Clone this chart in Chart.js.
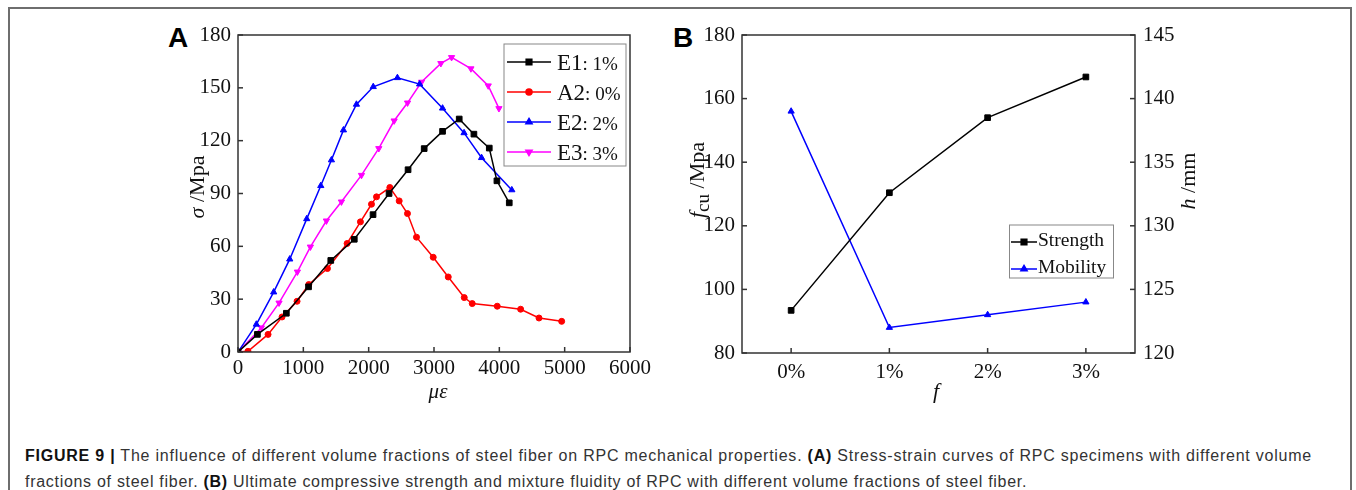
<!DOCTYPE html>
<html>
<head>
<meta charset="utf-8">
<script src="https://cdn.jsdelivr.net/npm/chart.js@4.4.0/dist/chart.umd.min.js"></script>
<style>
  body { margin: 0; background: #fff; width: 1356px; height: 490px; overflow: hidden; position: relative; }
  #frame { position: absolute; left: 8px; top: 7px; width: 1340px; height: 520px; border: 2px solid #6e6e6e; border-bottom: none; }
  .panel { position: absolute; top: 0; }
  #wrapA { left: 160px; width: 500px; height: 410px; }
  #wrapB { left: 660px; width: 560px; height: 410px; }
  .tag { position: absolute; top: 24px; font: bold 28px 'Liberation Sans', Arial, sans-serif; line-height: 28px; color: #000; }
  #caption { position: absolute; left: 25px; top: 443px; font: 16px 'Liberation Sans', Arial, sans-serif; line-height: 26px; color: #333; white-space: nowrap; }
  #caption b { color: #111; }
</style>
</head>
<body>
<div id="frame"></div>
<div class="tag" style="left:168px">A</div>
<div class="tag" style="left:673px">B</div>
<div class="panel" id="wrapA"><canvas id="chartA" width="500" height="410"></canvas></div>
<div class="panel" id="wrapB"><canvas id="chartB" width="560" height="410"></canvas></div>
<div id="caption">
  <div class="ln"><b>FIGURE 9 |</b> The influence of different volume fractions of steel fiber on RPC mechanical properties. <b>(A)</b> Stress-strain curves of RPC specimens with different volume</div>
  <div class="ln">fractions of steel fiber. <b>(B)</b> Ultimate compressive strength and mixture fluidity of RPC with different volume fractions of steel fiber.</div>
</div>
<script>
// --- panel A: stress-strain curves (strain in µε, stress in MPa)
var e1Strain = [0, 297, 740, 1080, 1420, 1780, 2067, 2312, 2603, 2850, 3131, 3386, 3611, 3846, 3963, 4152];
var e1Stress = [0, 10, 22, 37, 52, 64, 78, 90, 103.5, 115.5, 125.3, 132.3, 123.7, 115.8, 97.2, 84.7];

var a2Strain = [0, 153, 460, 674, 904, 1083, 1369, 1670, 1874, 2043, 2120, 2324, 2467, 2594, 2732, 2988, 3218, 3463, 3585, 3968, 4326, 4607, 4954];
var a2Stress = [0, 0.4, 10, 19.9, 28.8, 38.3, 47.4, 61.6, 73.9, 83.9, 88.1, 93.4, 85.8, 78.6, 65.2, 53.8, 42.6, 30.9, 27.5, 26, 24.3, 19.3, 17.4];

var e2Strain = [0, 281, 546, 792, 1052, 1267, 1430, 1614, 1813, 2070, 2440, 2780, 3131, 3460, 3728, 4191];
var e2Stress = [0, 15.7, 34, 52.7, 75.6, 94.4, 109, 126, 140.6, 150.6, 155.7, 152.1, 138.4, 124.4, 110.3, 92];

var e3Strain = [0, 358, 628, 909, 1108, 1353, 1583, 1890, 2155, 2390, 2595, 2809, 3105, 3269, 3565, 3830, 3994];
var e3Stress = [0, 13.8, 27.9, 45.5, 59.7, 74.5, 85.3, 100.4, 115.6, 131.3, 141.5, 153.3, 163.9, 167.3, 160.9, 151.2, 138.3];

var seriesNamesA = ['E1: 1%', 'A2: 0%', 'E2: 2%', 'E3: 3%'];

// --- panel B: strength and mobility against fiber fraction
var fractions = ['0%', '1%', '2%', '3%'];
var strength = [93.4, 130.4, 154, 166.8];
var mobility = [139, 122, 123, 124];
var seriesNamesB = ['Strength', 'Mobility'];

var SERIF = "'Liberation Serif', 'Times New Roman', serif";
var tickFont = { family: SERIF, size: 21 };

function pairs(xs, ys) {
    return xs.map((x, i) => ({ x: x, y: ys[i] }));
}

function series(label, data, color, style, radius, rotation, axis) {
    var ds = {
        label: label,
        data: data,
        borderColor: color,
        backgroundColor: color,
        borderWidth: 1.5,
        pointStyle: style,
        pointRadius: radius,
        pointRotation: rotation || 0,
        pointBorderWidth: 1,
        tension: 0,
        showLine: true,
        fill: false
    };
    if (axis) ds.yAxisID = axis;
    return ds;
}

// draw text made of several runs (italic, subscript...) centred on x,y
function drawRuns(ctx, runs, x, y, rotate) {
    ctx.save();
    ctx.translate(x, y);
    if (rotate) ctx.rotate(-Math.PI / 2);
    ctx.textBaseline = 'alphabetic';
    ctx.textAlign = 'left';
    var total = 0;
    runs.forEach(r => { ctx.font = r.font; total += ctx.measureText(r.text).width; });
    var cx = -total / 2;
    runs.forEach(r => {
        ctx.font = r.font;
        ctx.fillStyle = '#111';
        ctx.fillText(r.text, cx, 7 + (r.dy || 0));
        cx += ctx.measureText(r.text).width;
    });
    ctx.restore();
}

function marker(ctx, ds, x, y) {
    Chart.helpers.drawPoint(ctx, {
        pointStyle: ds.pointStyle,
        rotation: ds.pointRotation,
        radius: ds.pointRadius,
        borderWidth: 1
    }, x, y);
}

// frame round the plot, inward ticks, axis titles and legend box
var framePlugin = {
    id: 'frame',
    afterDraw(chart, args, opts) {
        var ctx = chart.ctx, a = chart.chartArea;
        ctx.save();
        ctx.strokeStyle = '#333';
        ctx.lineWidth = 1.5;
        ctx.strokeRect(a.left, a.top, a.right - a.left, a.bottom - a.top);
        opts.sides.forEach(t => {
            var sc = chart.scales[t.id];
            sc.ticks.forEach((tk, i) => {
                var p = sc.getPixelForTick(i);
                ctx.beginPath();
                if (t.side === 'bottom') { ctx.moveTo(p, a.bottom); ctx.lineTo(p, a.bottom - 5); }
                else if (t.side === 'left') { ctx.moveTo(a.left, p); ctx.lineTo(a.left + 5, p); }
                else { ctx.moveTo(a.right, p); ctx.lineTo(a.right - 5, p); }
                ctx.stroke();
            });
        });
        ctx.restore();

        opts.titles.forEach(t => drawRuns(ctx, t.runs, t.x, t.y, t.rotate));

        // legend
        var lg = opts.legend;
        ctx.save();
        ctx.strokeStyle = '#888';
        ctx.lineWidth = 1;
        ctx.strokeRect(lg.x, lg.y, lg.w, lg.h);
        chart.data.datasets.forEach((ds, i) => {
            var ly = lg.rows[i];
            ctx.strokeStyle = ds.borderColor;
            ctx.fillStyle = ds.backgroundColor;
            ctx.lineWidth = 1.5;
            ctx.beginPath();
            ctx.moveTo(lg.lineX0, ly);
            ctx.lineTo(lg.lineX1, ly);
            ctx.stroke();
            marker(ctx, ds, (lg.lineX0 + lg.lineX1) / 2, ly);
            ctx.fillStyle = '#111';
            ctx.textBaseline = 'alphabetic';
            ctx.textAlign = 'left';
            var parts = lg.split ? [ds.label.split(':')[0], ':' + ds.label.split(':')[1]] : [ds.label];
            var tx = lg.textX;
            ctx.font = lg.bigFont;
            ctx.fillText(parts[0], tx, ly + lg.base);
            tx += ctx.measureText(parts[0]).width;
            if (parts[1]) {
                ctx.font = lg.smallFont;
                ctx.fillText(parts[1], tx, ly + lg.base);
            }
        });
        ctx.restore();
    }
};

function axisBase(extra) {
    return Object.assign({
        grid: { display: false, drawTicks: false },
        border: { display: false },
        title: { display: false }
    }, extra);
}

var plainNumber = v => String(v);

new Chart(document.getElementById('chartA'), {
    type: 'scatter',
    data: {
        datasets: [
            series(seriesNamesA[0], pairs(e1Strain, e1Stress), '#000000', 'rect', 4),
            series(seriesNamesA[1], pairs(a2Strain, a2Stress), '#ff0000', 'circle', 3),
            series(seriesNamesA[2], pairs(e2Strain, e2Stress), '#0000ff', 'triangle', 3.6),
            series(seriesNamesA[3], pairs(e3Strain, e3Stress), '#ff00ff', 'triangle', 3.6, 180)
        ]
    },
    options: {
        animation: false,
        responsive: false,
        devicePixelRatio: 1,
        layout: { padding: { top: 35, right: 30, left: 0, bottom: 0 } },
        plugins: {
            legend: { display: false },
            tooltip: { enabled: false },
            frame: {
                sides: [{ id: 'x', side: 'bottom' }, { id: 'y', side: 'left' }],
                titles: [
                    { x: 37, y: 187, rotate: true, runs: [
                        { text: 'σ', font: 'italic 22px ' + SERIF },
                        { text: ' /Mpa', font: '22px ' + SERIF }] },
                    { x: 278, y: 391, runs: [{ text: 'με', font: 'italic 21px ' + SERIF }] }
                ],
                legend: {
                    x: 344, y: 44, w: 122, h: 122,
                    rows: [62, 92, 122, 152],
                    lineX0: 347, lineX1: 391, textX: 397, base: 7.5,
                    split: true,
                    bigFont: '23px ' + SERIF, smallFont: '19px ' + SERIF
                }
            }
        },
        scales: {
            x: axisBase({
                type: 'linear', min: 0, max: 6000,
                ticks: { stepSize: 1000, font: tickFont, color: '#111', padding: 4, maxRotation: 0, callback: plainNumber },
                afterFit: s => { s.height = 58; }
            }),
            y: axisBase({
                min: 0, max: 180,
                ticks: { stepSize: 30, font: tickFont, color: '#111', padding: 7, callback: plainNumber },
                afterFit: s => { s.width = 78; }
            })
        }
    },
    plugins: [framePlugin]
});

new Chart(document.getElementById('chartB'), {
    type: 'line',
    data: {
        labels: fractions,
        datasets: [
            series(seriesNamesB[0], strength, '#000000', 'rect', 4, 0, 'y'),
            series(seriesNamesB[1], mobility, '#0000ff', 'triangle', 3.6, 0, 'y1')
        ]
    },
    options: {
        animation: false,
        responsive: false,
        devicePixelRatio: 1,
        layout: { padding: { top: 35, right: 0, left: 0, bottom: 0 } },
        plugins: {
            legend: { display: false },
            tooltip: { enabled: false },
            frame: {
                sides: [{ id: 'x', side: 'bottom' }, { id: 'y', side: 'left' }, { id: 'y1', side: 'right' }],
                titles: [
                    { x: 37, y: 180, rotate: true, runs: [
                        { text: 'f', font: 'italic 22px ' + SERIF },
                        { text: 'cu', font: '19px ' + SERIF, dy: 5 },
                        { text: ' /Mpa', font: '22px ' + SERIF }] },
                    { x: 528, y: 181, rotate: true, runs: [
                        { text: 'h', font: 'italic 22px ' + SERIF },
                        { text: ' /mm', font: '22px ' + SERIF }] },
                    { x: 276, y: 391, runs: [{ text: 'f', font: 'italic 22px ' + SERIF }] }
                ],
                legend: {
                    x: 349.5, y: 225, w: 104, h: 53,
                    rows: [242, 269],
                    lineX0: 351, lineX1: 377, textX: 378, base: 4,
                    split: false,
                    bigFont: '19.5px ' + SERIF, smallFont: '19.5px ' + SERIF
                }
            }
        },
        scales: {
            x: axisBase({
                type: 'category', offset: true,
                ticks: { font: tickFont, color: '#111', padding: 7, maxRotation: 0 },
                afterFit: s => { s.height = 57; }
            }),
            y: axisBase({
                position: 'left', min: 80, max: 180,
                ticks: { stepSize: 20, font: tickFont, color: '#111', padding: 7 },
                afterFit: s => { s.width = 82; }
            }),
            y1: axisBase({
                position: 'right', min: 120, max: 145,
                ticks: { stepSize: 5, font: tickFont, color: '#111', padding: 8 },
                afterFit: s => { s.width = 85; }
            })
        }
    },
    plugins: [framePlugin]
});

// stretch each caption line to the width it has in the figure
(function () {
    var widths = [1287, 1002];
    document.querySelectorAll('#caption .ln').forEach((el, i) => {
        el.style.display = 'inline-block';
        var w = el.getBoundingClientRect().width;
        var n = el.textContent.trim().length;
        el.style.letterSpacing = ((widths[i] - w) / n).toFixed(3) + 'px';
        el.style.display = 'block';
    });
}());
</script>
</body>
</html>
